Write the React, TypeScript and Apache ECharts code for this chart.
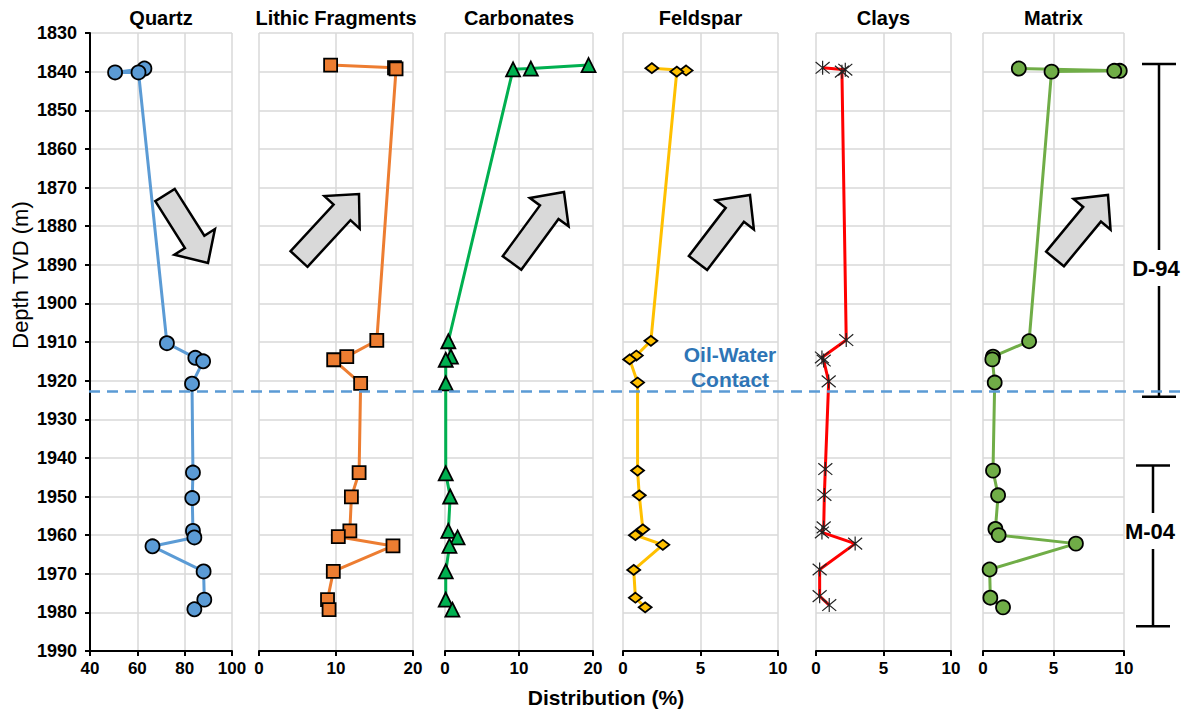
import React, { useEffect, useRef } from "react";
import * as echarts from "echarts";

// ---------- data: [value (%), depth TVD (m)] ----------
const quartz: number[][] = [
  [63.0, 1839.2], [50.6, 1840.2], [60.5, 1840.2], [72.5, 1910.3], [84.5, 1914.1],
  [87.8, 1915.0], [83.1, 1920.8], [83.5, 1943.8], [83.2, 1950.4], [83.5, 1958.9],
  [84.1, 1960.6], [66.4, 1962.9], [88.0, 1969.4], [88.3, 1976.7], [84.1, 1979.2],
];
const lithic: number[][] = [
  [9.3, 1838.3], [17.6, 1839.0], [17.8, 1839.3], [15.3, 1909.6], [11.4, 1913.8],
  [9.7, 1914.6], [13.2, 1920.7], [13.0, 1943.8], [12.0, 1950.1], [11.8, 1958.9],
  [10.3, 1960.4], [17.4, 1962.8], [9.65, 1969.4], [8.9, 1976.7], [9.1, 1979.3],
];
const carbonates: number[][] = [
  [19.4, 1838.3], [11.6, 1839.2], [9.2, 1839.4], [0.45, 1909.8], [0.8, 1913.8],
  [0.1, 1914.6], [0.1, 1920.7], [0.1, 1944.0], [0.7, 1950.0], [0.45, 1958.9],
  [1.7, 1960.6], [0.6, 1962.8], [0.1, 1969.4], [0.1, 1976.7], [1.0, 1979.3],
];
const feldspar: number[][] = [
  [1.86, 1839.1], [4.07, 1839.7], [3.47, 1840.0], [1.8, 1909.7], [0.86, 1913.5],
  [0.43, 1914.5], [0.94, 1920.5], [0.94, 1943.3], [1.05, 1949.7], [1.28, 1958.5],
  [0.8, 1960.0], [2.57, 1962.5], [0.69, 1969.0], [0.8, 1976.2], [1.43, 1978.7],
];
const clays: number[][] = [
  [0.49, 1839.0], [2.17, 1839.5], [1.92, 1840.0], [2.24, 1909.5], [0.44, 1914.0],
  [0.57, 1914.8], [0.94, 1920.2], [0.69, 1942.9], [0.62, 1949.6], [0.57, 1958.0],
  [0.44, 1959.3], [2.9, 1962.2], [0.27, 1968.9], [0.27, 1975.8], [0.98, 1978.1],
];
const matrix: number[][] = [
  [2.54, 1839.2], [9.7, 1839.8], [9.31, 1839.8], [4.86, 1840.0], [3.27, 1909.8],
  [0.71, 1913.8], [0.66, 1914.5], [0.83, 1920.5], [0.71, 1943.3], [1.07, 1949.7],
  [0.88, 1958.4], [1.11, 1960.0], [6.59, 1962.2], [0.47, 1968.9], [0.52, 1976.2],
  [1.42, 1978.7],
];

const panelTitles = ["Quartz", "Lithic Fragments", "Carbonates", "Feldspar", "Clays", "Matrix"];
const xMins = [40, 0, 0, 0, 0, 0];
const xMaxs = [100, 20, 20, 10, 10, 10];
const xIntervals = [20, 10, 10, 5, 5, 5];
const depthMin = 1830;
const depthMax = 1990;
const depthInterval = 10;
const owcDepth = 1922.8;
const zones = [
  { name: "D-94", top: 1838, bottom: 1924.2 },
  { name: "M-04", top: 1942, bottom: 1983.6 },
];

// ---------- layout / style ----------
const FONT = '"Liberation Sans", Arial, Helvetica, sans-serif';
const GRID_TOP = 33;
const GRID_H = 618;
const lefts = [90, 259, 445, 623, 816, 983];
const widths = [142, 154, 148, 155, 135, 141];
const colors = ["#5B9BD5", "#ED7D31", "#00B050", "#FFC000", "#FF0000", "#70AD47"];
const symbols = [
  "circle",
  "rect",
  "triangle",
  "diamond",
  "path://M0,0L10,10M10,0L0,10M5,-1L5,11",
  "circle",
];
const symbolSizes: any[] = [14, 13, 14, [13, 10], 14, 14];
const GRID_COLOR = "#D9D9D9";

function yPix(d: number) {
  return GRID_TOP + ((d - depthMin) / (depthMax - depthMin)) * GRID_H;
}

function arrowPoints(tx: number, ty: number, hx: number, hy: number) {
  const w = 23, W = 48, L = 25;
  const dx = hx - tx, dy = hy - ty;
  const len = Math.sqrt(dx * dx + dy * dy);
  const ux = dx / len, uy = dy / len;
  const nx = -uy, ny = ux;
  const bx = hx - ux * L, by = hy - uy * L;
  return [
    [tx + nx * w / 2, ty + ny * w / 2],
    [bx + nx * w / 2, by + ny * w / 2],
    [bx + nx * W / 2, by + ny * W / 2],
    [hx, hy],
    [bx - nx * W / 2, by - ny * W / 2],
    [bx - nx * w / 2, by - ny * w / 2],
    [tx - nx * w / 2, ty - ny * w / 2],
  ];
}

const arrows = [
  [165, 195, 208, 263],
  [299, 259, 359, 194],
  [512, 263, 564, 192],
  [698, 263, 750, 195],
  [1055, 259, 1108, 195],
];

export default function App() {
  const ref = useRef<HTMLDivElement>(null);

  useEffect(() => {
    if (!ref.current) return;
    const chart = echarts.init(ref.current, undefined, { renderer: "svg" });
    const seriesData = [quartz, lithic, carbonates, feldspar, clays, matrix];

    const grids = lefts.map((l, i) => ({ left: l, top: GRID_TOP, width: widths[i], height: GRID_H }));

    const xAxes = lefts.map((_, i) => ({
      type: "value",
      gridIndex: i,
      min: xMins[i],
      max: xMaxs[i],
      interval: xIntervals[i],
      axisLine: { show: true, onZero: false, lineStyle: { color: "#000", width: 2 } },
      axisTick: { show: true, length: 5, lineStyle: { color: "#000", width: 2 } },
      axisLabel: {
        color: "#000",
        fontFamily: FONT,
        fontWeight: "bold",
        fontSize: 17,
        margin: 9,
      },
      splitLine: { show: true, lineStyle: { color: GRID_COLOR, width: 1.5 } },
    }));

    const yAxes = lefts.map((_, i) => ({
      type: "value",
      gridIndex: i,
      inverse: true,
      min: depthMin,
      max: depthMax,
      interval: depthInterval,
      axisLine: { show: i === 0, onZero: false, lineStyle: { color: "#000", width: 2 } },
      axisTick: { show: i === 0, length: 5, lineStyle: { color: "#000", width: 2 } },
      axisLabel: {
        show: i === 0,
        color: "#000",
        fontFamily: FONT,
        fontWeight: "bold",
        fontSize: 18,
        margin: 13,
        formatter: (v: number) => String(v),
      },
      splitLine: { show: true, lineStyle: { color: GRID_COLOR, width: 1.5 } },
    }));

    const series = seriesData.map((d, i) => ({
      type: "line",
      name: panelTitles[i],
      xAxisIndex: i,
      yAxisIndex: i,
      data: d,
      symbol: symbols[i],
      symbolSize: symbolSizes[i],
      showSymbol: true,
      showAllSymbol: true,
      clip: false,
      lineStyle: { color: colors[i], width: 3 },
      itemStyle:
        i === 4
          ? { color: "rgba(0,0,0,0)", borderColor: "#222", borderWidth: 1.2 }
          : { color: colors[i], borderColor: "#000", borderWidth: 1.8 },
      z: 3,
    }));

    const graphic: any[] = [];
    panelTitles.forEach((t, i) => {
      graphic.push({
        type: "text",
        x: lefts[i] + widths[i] / 2,
        y: 18,
        style: {
          text: t,
          fill: "#000",
          font: `bold 20px ${FONT}`,
          textAlign: "center",
          textVerticalAlign: "middle",
        },
      });
    });
    graphic.push({
      type: "text",
      x: 20,
      y: 275,
      rotation: Math.PI / 2,
      style: {
        text: "Depth TVD (m)",
        fill: "#000",
        font: `22px ${FONT}`,
        textAlign: "center",
        textVerticalAlign: "middle",
      },
    });
    graphic.push({
      type: "text",
      x: 606,
      y: 697,
      style: {
        text: "Distribution (%)",
        fill: "#000",
        font: `bold 21px ${FONT}`,
        textAlign: "center",
        textVerticalAlign: "middle",
      },
    });
    // oil-water contact
    const yOwc = yPix(owcDepth);
    graphic.push({
      type: "line",
      z: 10,
      shape: { x1: 89, y1: yOwc, x2: 1180, y2: yOwc },
      style: { stroke: "#5B9BD5", lineWidth: 2.5, lineDash: [11, 7] },
    });
    graphic.push({
      type: "text",
      z: 10,
      x: 730,
      y: 367,
      style: {
        text: "Oil-Water\nContact",
        fill: "#2E75B6",
        font: `bold 21px ${FONT}`,
        lineHeight: 25,
        textAlign: "center",
        textVerticalAlign: "middle",
      },
    });
    // trend arrows
    arrows.forEach((a) => {
      graphic.push({
        type: "polygon",
        z: 10,
        shape: { points: arrowPoints(a[0], a[1], a[2], a[3]) },
        style: { fill: "#D9D9D9", stroke: "#000", lineWidth: 2.5, lineJoin: "miter" },
      });
    });
    // zone brackets
    const bx = [1159, 1153];
    zones.forEach((z, i) => {
      const yt = yPix(z.top);
      const yb = yPix(z.bottom);
      const yc = i === 0 ? 268 : 531;
      const x = bx[i];
      const st = { stroke: "#000", lineWidth: 2.5 };
      graphic.push({ type: "line", shape: { x1: x - 17, y1: yt, x2: x + 17, y2: yt }, style: st });
      graphic.push({ type: "line", shape: { x1: x - 17, y1: yb, x2: x + 17, y2: yb }, style: st });
      graphic.push({ type: "line", shape: { x1: x, y1: yt, x2: x, y2: yc - 18 }, style: st });
      graphic.push({ type: "line", shape: { x1: x, y1: yc + 18, x2: x, y2: yb }, style: st });
      graphic.push({
        type: "text",
        x: x - 3,
        y: yc,
        style: {
          text: z.name,
          fill: "#000",
          font: `bold 22px ${FONT}`,
          textAlign: "center",
          textVerticalAlign: "middle",
        },
      });
    });

    chart.setOption({
      animation: false,
      backgroundColor: "#fff",
      grid: grids,
      xAxis: xAxes,
      yAxis: yAxes,
      series,
      graphic,
    });
    return () => chart.dispose();
  }, []);

  return (
    <div
      ref={ref}
      style={{ position: "fixed", left: 0, top: 0, width: 1191, height: 717, background: "#fff" }}
    />
  );
}
